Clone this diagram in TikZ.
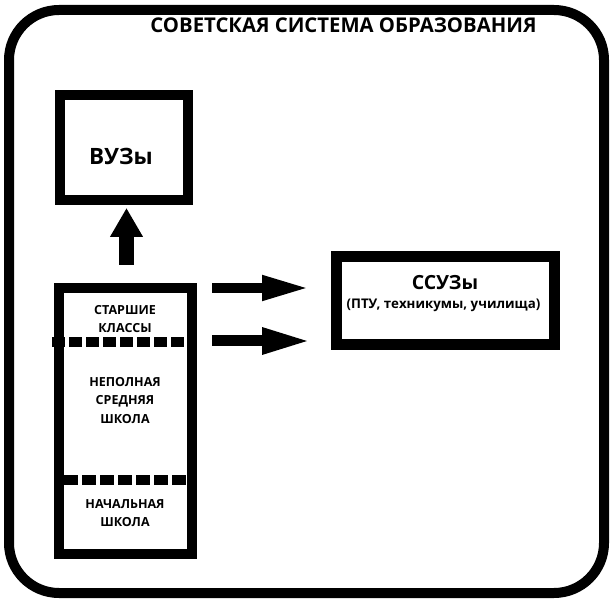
\documentclass[tikz,border=0pt]{standalone}
\usepackage{fontspec}
\setmainfont{Open Sans}
\usetikzlibrary{arrows.meta}
\tikzset{
  frame/.style={draw=black, line width=10pt, rounded corners=50pt},
  blockbox/.style={draw=black, line width=10pt, inner sep=0pt, fill=none},
  lbl/.style={anchor=base, inner sep=0pt},
  big/.style={font=\bfseries\fontsize{19.5}{23}\selectfont},
  small/.style={font=\bfseries\fontsize{12.5}{15}\selectfont},
  dashsep/.style={draw=black, line width=10pt}
}
\begin{document}
\begin{tikzpicture}[x=1pt,y=-1pt]
\useasboundingbox (0,0) rectangle (613,601);
% outer frame
\draw[frame] (9,10) rectangle (604,593);
% title
\node[lbl, font=\bfseries\fontsize{20.3}{24}\selectfont] (title) at (343.5,33) {СОВЕТСКАЯ СИСТЕМА ОБРАЗОВАНИЯ};
% boxes
\node[blockbox, minimum width=128pt, minimum height=105pt] (vuz) at (124,147.5) {};
\node[blockbox, minimum width=133pt, minimum height=266pt] (school) at (125.5,421) {};
\node[blockbox, line width=11pt, minimum width=218pt, minimum height=87.5pt] (ssuz) at (445.5,300.75) {};
% texts
\node[lbl, font=\bfseries\fontsize{22.5}{26}\selectfont] (tvuz) at (121,165) {ВУЗы};
\node[lbl, big] (tssuz) at (445,290) {ССУЗы};
\node[lbl, font=\bfseries\fontsize{13.3}{16}\selectfont] (tssuz2) at (443.5,309) {(ПТУ, техникумы, училища)};
\node[lbl, small] (s1) at (125,315) {СТАРШИЕ};
\node[lbl, small] (s2) at (125,333) {КЛАССЫ};
\node[lbl, small] (n1) at (125,387) {НЕПОЛНАЯ};
\node[lbl, small] (n2) at (125,405) {СРЕДНЯЯ};
\node[lbl, small] (n3) at (125,423) {ШКОЛА};
\node[lbl, small] (p1) at (125,508) {НАЧАЛЬНАЯ};
\node[lbl, small] (p2) at (125,526) {ШКОЛА};
% dashed separators
\coordinate (d1a) at (52,342);
\coordinate (d1b) at (184,342);
\coordinate (d2a) at (64,480);
\coordinate (d2b) at (194,480);
\draw[dashsep, dash pattern=on 13pt off 4pt] (d1a) -- (d1b);
\draw[dashsep, dash pattern=on 14pt off 4pt] (d2a) -- (d2b);
% arrows
\coordinate (au) at (126.5,265);
\coordinate (aut) at (126.5,208);
\draw[line width=15pt, -{Triangle[length=29pt,width=31pt]}] (au) -- (aut);
\coordinate (ar1) at (212,288);
\coordinate (ar1t) at (310,288);
\coordinate (ar2) at (212,341);
\coordinate (ar2t) at (312,341);
\draw[line width=10pt, -{Triangle[length=48pt,width=23pt]}] (ar1) -- (ar1t);
\draw[line width=11pt, -{Triangle[length=50pt,width=24pt]}] (ar2) -- (ar2t);
\end{tikzpicture}
\end{document}
